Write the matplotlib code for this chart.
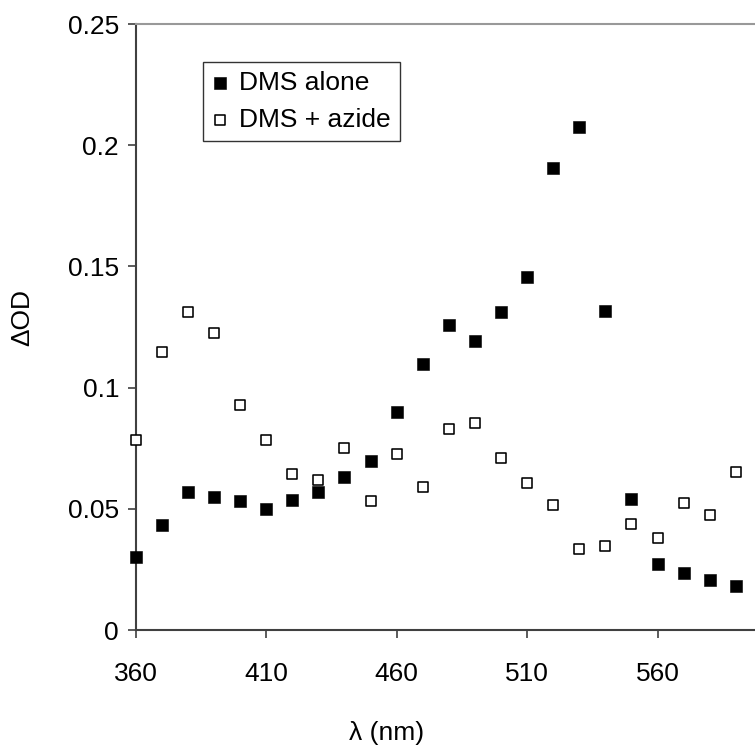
import matplotlib
matplotlib.use("Agg")
import matplotlib.pyplot as plt

plt.rcParams["font.family"] = ["Liberation Sans", "DejaVu Sans"]

wavelength = [360, 370, 380, 390, 400, 410, 420, 430, 440, 450, 460, 470,
              480, 490, 500, 510, 520, 530, 540, 550, 560, 570, 580, 590]

dms_alone = [0.030, 0.0433, 0.0571, 0.055, 0.0532, 0.0498, 0.0538, 0.0571,
             0.063, 0.0697, 0.0901, 0.1099, 0.1258, 0.1192, 0.1311, 0.1456,
             0.1905, 0.2076, 0.1317, 0.0539, 0.0274, 0.0235, 0.0208, 0.0183]

dms_azide = [0.0783, 0.1147, 0.131, 0.1224, 0.0928, 0.0783, 0.0645, 0.0619,
             0.075, 0.0532, 0.0725, 0.0591, 0.0829, 0.0855, 0.0711, 0.0605,
             0.0514, 0.0334, 0.0348, 0.0439, 0.0381, 0.0525, 0.0473, 0.0651]

x_ticks = [360, 410, 460, 510, 560]
y_ticks = [0, 0.05, 0.1, 0.15, 0.2, 0.25]
y_tick_labels = ["0", "0.05", "0.1", "0.15", "0.2", "0.25"]

FS = 19
W, H = 755, 747
fig = plt.figure(figsize=(W / 100, H / 100), dpi=100)

left_px, right_px = 135.7, 788.0
bottom_px, top_px = 630.0, 24.0
ax_w = right_px - left_px
ax_h = bottom_px - top_px
ax = fig.add_axes([left_px / W, (H - bottom_px) / H, ax_w / W, ax_h / H])

ax.scatter(wavelength, dms_alone, marker="s", s=80, facecolor="black",
           edgecolor="black", linewidth=0.4, label="DMS alone", zorder=3,
           clip_on=False)
ax.scatter(wavelength, dms_azide, marker="s", s=58, facecolor="white",
           edgecolor="black", linewidth=1.15, label="DMS + azide", zorder=3,
           clip_on=False)

ax.set_xlim(360, 610)
ax.set_ylim(0, 0.25)
ax.set_xticks(x_ticks)
ax.set_xticklabels([str(t) for t in x_ticks])
ax.set_yticks(y_ticks)
ax.set_yticklabels(y_tick_labels)

axis_color = "#404040"
for side in ("left", "bottom"):
    ax.spines[side].set_color(axis_color)
    ax.spines[side].set_linewidth(1.5)
for side in ("top", "right"):
    ax.spines[side].set_color("#999999")
    ax.spines[side].set_linewidth(1.5)

ax.tick_params(axis="both", direction="out", length=6, width=1.2,
               color=axis_color, labelsize=FS, labelcolor="black")
ax.tick_params(axis="x", pad=17)
ax.tick_params(axis="y", pad=6)

ax.set_xlabel("λ (nm)", fontsize=FS)
ax.xaxis.set_label_coords((387 - left_px) / ax_w, -(721 - bottom_px) / ax_h)
ax.set_ylabel("ΔOD", fontsize=FS)
ax.yaxis.set_label_coords(-(left_px - 34) / ax_w, (bottom_px - 317) / ax_h)

leg = ax.legend(loc="upper left",
                bbox_to_anchor=((203 - left_px) / ax_w, (bottom_px - 62) / ax_h),
                fontsize=FS, frameon=True, fancybox=False, handlelength=0.6,
                handletextpad=0.45, borderpad=0.33, labelspacing=0.5,
                markerscale=0.92, borderaxespad=0)
leg.get_frame().set_edgecolor("black")
leg.get_frame().set_linewidth(1.0)

fig.savefig("out.png", dpi=100)
